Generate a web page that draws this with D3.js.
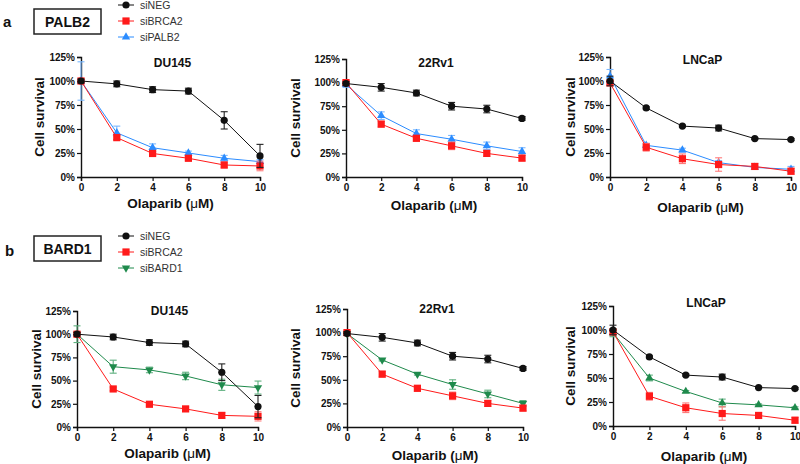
<!DOCTYPE html>
<html><head><meta charset="utf-8">
<script src="https://cdn.jsdelivr.net/npm/d3@7"></script>
<style>html,body{margin:0;padding:0;background:#fff}svg{display:block}</style>
</head><body>
<svg id="c" width="800" height="464"></svg>
<script>
// ---------- data ----------
const doses = [0, 2, 4, 6, 8, 10];
const yTicks = [0, 25, 50, 75, 100, 125];
const yTickLabels = ["0%", "25%", "50%", "75%", "100%", "125%"];
const cellLines = ["DU145", "22Rv1", "LNCaP"];
const seriesA = ["siNEG", "siBRCA2", "siPALB2"];
const seriesB = ["siNEG", "siBRCA2", "siBARD1"];

// Panel a
const aDU145_siNEG = [100, 97, 91, 89.5, 59, 22];
const aDU145_siNEG_err = [2, 3, 3, 3, 9, 12];
const aDU145_siBRCA2 = [100, 41, 24.5, 19.5, 12.5, 11.5];
const aDU145_siBRCA2_err = [2, 2, 2, 2, 3, 5];
const aDU145_siPALB2 = [100, 46, 30.5, 25, 19.5, 16];
const aDU145_siPALB2_err = [20, 7, 4, 2, 3, 2];

const a22Rv1_siNEG = [99, 95, 89, 75, 72, 62];
const a22Rv1_siNEG_err = [2, 4, 3, 4, 4, 2];
const a22Rv1_siBRCA2 = [100, 56, 41, 33, 25, 20];
const a22Rv1_siBRCA2_err = [2, 3, 3, 4, 3, 3];
const a22Rv1_siPALB2 = [98, 65, 46, 40, 33, 27];
const a22Rv1_siPALB2_err = [3, 4, 4, 4, 4, 4];

const aLNCaP_siNEG = [100, 72, 53, 51, 40, 39];
const aLNCaP_siNEG_err = [5, 1, 1, 3, 1, 1];
const aLNCaP_siBRCA2 = [98, 31, 19, 13, 11, 6];
const aLNCaP_siBRCA2_err = [2, 4, 5, 7, 3, 3];
const aLNCaP_siPALB2 = [105, 33, 28, 15, 10, 8];
const aLNCaP_siPALB2_err = [7, 2, 2, 2, 2, 3];

// Panel b
const bDU145_siNEG = [100, 97, 91, 89.5, 59, 22];
const bDU145_siNEG_err = [2, 3, 3, 3, 9, 12];
const bDU145_siBRCA2 = [100, 41, 24.5, 19.5, 12.5, 11.5];
const bDU145_siBRCA2_err = [2, 2, 2, 2, 3, 5];
const bDU145_siBARD1 = [100, 65, 61.5, 55, 45.5, 42.5];
const bDU145_siBARD1_err = [9, 7, 3, 4, 6, 7];

const b22Rv1_siNEG = [99, 95, 89, 75, 72, 62];
const b22Rv1_siNEG_err = [2, 4, 3, 4, 4, 2];
const b22Rv1_siBRCA2 = [100, 56, 41, 33, 25, 20];
const b22Rv1_siBRCA2_err = [2, 3, 3, 4, 3, 3];
const b22Rv1_siBARD1 = [99, 71, 56, 45, 35, 25];
const b22Rv1_siBARD1_err = [2, 1, 1, 5, 4, 3];

const bLNCaP_siNEG = [100, 72, 53, 51, 40, 39];
const bLNCaP_siNEG_err = [5, 1, 1, 3, 1, 1];
const bLNCaP_siBRCA2 = [98, 31, 19, 13, 11, 6];
const bLNCaP_siBRCA2_err = [2, 4, 5, 7, 3, 3];
const bLNCaP_siBARD1 = [97, 50, 36, 24, 22, 19];
const bLNCaP_siBARD1_err = [4, 3, 1, 4, 1, 1];

// ---------- styles ----------
const FONT = "'Liberation Sans', Arial, sans-serif";
const styles = {
  siNEG:   {color: "#111111", err: "#222222", shape: "circle"},
  siBRCA2: {color: "#ff1a1a", err: "#ff7a7a", shape: "square"},
  siPALB2: {color: "#2b8cff", err: "#7ab8ff", shape: "triangle"},
  siBARD1: {color: "#1f8a4c", err: "#5fb07f", shape: "triangleDown"}
};

const svg = d3.select("#c");

function marker(g, shape, x, y, color) {
  if (shape === "circle") {
    g.append("circle").attr("cx", x).attr("cy", y).attr("r", 3.6).attr("fill", color);
  } else if (shape === "square") {
    g.append("rect").attr("x", x - 3.6).attr("y", y - 3.6).attr("width", 7.2).attr("height", 7.2).attr("fill", color);
  } else {
    const t = shape === "triangleDown" ? d3.symbolTriangle : d3.symbolTriangle;
    g.append("path").attr("d", d3.symbol().type(t).size(30)())
      .attr("transform", `translate(${x},${y})` + (shape === "triangleDown" ? " rotate(180)" : ""))
      .attr("fill", color);
  }
}

const panels = [
  {x0: 81, x1: 260, yTop: 57, yBot: 177, title: "DU145", tY: 67, ytX: 39, xtY: 208,
   series: [["siNEG", aDU145_siNEG, aDU145_siNEG_err], ["siBRCA2", aDU145_siBRCA2, aDU145_siBRCA2_err], ["siPALB2", aDU145_siPALB2, aDU145_siPALB2_err]]},
  {x0: 346, x1: 522, yTop: 59, yBot: 177, title: "22Rv1", tY: 67, ytX: 295, xtY: 210,
   series: [["siNEG", a22Rv1_siNEG, a22Rv1_siNEG_err], ["siBRCA2", a22Rv1_siBRCA2, a22Rv1_siBRCA2_err], ["siPALB2", a22Rv1_siPALB2, a22Rv1_siPALB2_err]]},
  {x0: 610, x1: 791, yTop: 57, yBot: 177, title: "LNCaP", tY: 64, ytX: 570, xtY: 212,
   series: [["siNEG", aLNCaP_siNEG, aLNCaP_siNEG_err], ["siBRCA2", aLNCaP_siBRCA2, aLNCaP_siBRCA2_err], ["siPALB2", aLNCaP_siPALB2, aLNCaP_siPALB2_err]]},
  {x0: 77, x1: 258, yTop: 311, yBot: 427, title: "DU145", tY: 315, ytX: 36, xtY: 458,
   series: [["siNEG", bDU145_siNEG, bDU145_siNEG_err], ["siBRCA2", bDU145_siBRCA2, bDU145_siBRCA2_err], ["siBARD1", bDU145_siBARD1, bDU145_siBARD1_err]]},
  {x0: 347, x1: 523, yTop: 309, yBot: 427, title: "22Rv1", tY: 313, ytX: 295, xtY: 460,
   series: [["siNEG", b22Rv1_siNEG, b22Rv1_siNEG_err], ["siBRCA2", b22Rv1_siBRCA2, b22Rv1_siBRCA2_err], ["siBARD1", b22Rv1_siBARD1, b22Rv1_siBARD1_err]]},
  {x0: 613, x1: 795, yTop: 306, yBot: 426, title: "LNCaP", tY: 307, ytX: 570, xtY: 461, upTri: true,
   series: [["siNEG", bLNCaP_siNEG, bLNCaP_siNEG_err], ["siBRCA2", bLNCaP_siBRCA2, bLNCaP_siBRCA2_err], ["siBARD1", bLNCaP_siBARD1, bLNCaP_siBARD1_err]]}
];

panels.forEach(p => {
  const x = d3.scaleLinear().domain([0, 10]).range([p.x0, p.x1]);
  const y = d3.scaleLinear().domain([0, 125]).range([p.yBot, p.yTop]);
  const g = svg.append("g");

  // axes
  const yAx = g.append("g").attr("transform", `translate(${p.x0},0)`)
    .call(d3.axisLeft(y).tickValues(yTicks).tickSize(4).tickFormat((d, i) => yTickLabels[i]));
  const xAx = g.append("g").attr("transform", `translate(0,${p.yBot})`)
    .call(d3.axisBottom(x).tickValues(doses).tickSize(4).tickFormat(d3.format("d")));
  [yAx, xAx].forEach(a => {
    a.select(".domain").attr("stroke", "#111").attr("stroke-width", 1.4);
    a.selectAll(".tick line").attr("stroke", "#111").attr("stroke-width", 1.2);
    a.selectAll("text").attr("font-family", FONT).attr("font-weight", "bold")
      .attr("font-size", 10).attr("fill", "#111");
  });
  yAx.selectAll("text").attr("x", -6);
  xAx.selectAll("text").attr("y", 7);

  // titles
  g.append("text").attr("x", (p.x0 + p.x1) / 2 + 2).attr("y", p.tY).attr("text-anchor", "middle")
    .attr("font-family", FONT).attr("font-weight", "bold").attr("font-size", 12).attr("fill", "#111").text(p.title);
  g.append("text").attr("transform", `translate(${p.ytX},${(p.yTop + p.yBot) / 2}) rotate(-90)`)
    .attr("text-anchor", "middle").attr("dominant-baseline", "central")
    .attr("font-family", FONT).attr("font-weight", "bold").attr("font-size", 13.5).attr("fill", "#111").text("Cell survival");
  const xt = g.append("text").attr("x", (p.x0 + p.x1) / 2).attr("y", p.xtY).attr("text-anchor", "middle")
    .attr("font-family", FONT).attr("font-weight", "bold").attr("font-size", 13.5).attr("fill", "#111");
  xt.append("tspan").text("Olaparib (");
  xt.append("tspan").attr("font-weight", "normal").text("μ");
  xt.append("tspan").text("M)");

  // series: draw in reverse so siNEG on top
  p.series.slice().reverse().forEach(([name, vals, errs]) => {
    const st = styles[name];
    let shape = st.shape;
    if (p.upTri && name === "siBARD1") shape = "triangle";
    const sg = g.append("g");
    // error bars
    doses.forEach((d, i) => {
      const cx = x(d), lo = y(vals[i] - errs[i]), hi = y(vals[i] + errs[i]);
      sg.append("line").attr("x1", cx).attr("x2", cx).attr("y1", lo).attr("y2", hi).attr("stroke", st.err).attr("stroke-width", 1.1);
      [lo, hi].forEach(yy => sg.append("line").attr("x1", cx - 3.5).attr("x2", cx + 3.5).attr("y1", yy).attr("y2", yy)
        .attr("stroke", st.err).attr("stroke-width", 1.1));
    });
    const line = d3.line().x((v, i) => x(doses[i])).y(v => y(v));
    sg.append("path").attr("d", line(vals)).attr("fill", "none").attr("stroke", st.color).attr("stroke-width", 1);
    doses.forEach((d, i) => marker(sg, shape, x(d), y(vals[i]), st.color));
  });
});

// legends and labels
const headers = [
  {label: "a", lx: 3, ly: 27, box: "PALB2", bx: 34, by: 9, bw: 67, bh: 25, legY: [5, 21, 37], series: seriesA},
  {label: "b", lx: 5, ly: 256, box: "BARD1", bx: 34, by: 236, bw: 67, bh: 25, legY: [236, 252, 268], series: seriesB}
];
headers.forEach(h => {
  svg.append("text").attr("x", h.lx).attr("y", h.ly).attr("font-family", FONT).attr("font-weight", "bold")
    .attr("font-size", 15).attr("fill", "#111").text(h.label);
  svg.append("rect").attr("x", h.bx).attr("y", h.by).attr("width", h.bw).attr("height", h.bh)
    .attr("fill", "none").attr("stroke", "#222").attr("stroke-width", 1.5);
  svg.append("text").attr("x", h.bx + h.bw / 2).attr("y", h.by + h.bh / 2).attr("text-anchor", "middle")
    .attr("dominant-baseline", "central").attr("font-family", FONT).attr("font-weight", "bold")
    .attr("font-size", 14).attr("fill", "#111").text(h.box);
  h.series.forEach((s, i) => {
    const st = styles[s];
    const yy = h.legY[i];
    svg.append("line").attr("x1", 118).attr("x2", 134).attr("y1", yy).attr("y2", yy).attr("stroke", st.color).attr("stroke-width", 1);
    marker(svg, st.shape, 126, yy, st.color);
    svg.append("text").attr("x", 140).attr("y", yy).attr("dominant-baseline", "central")
      .attr("font-family", FONT).attr("font-size", 10.5).attr("fill", "#333").text(s);
  });
});
</script>
</body></html>
